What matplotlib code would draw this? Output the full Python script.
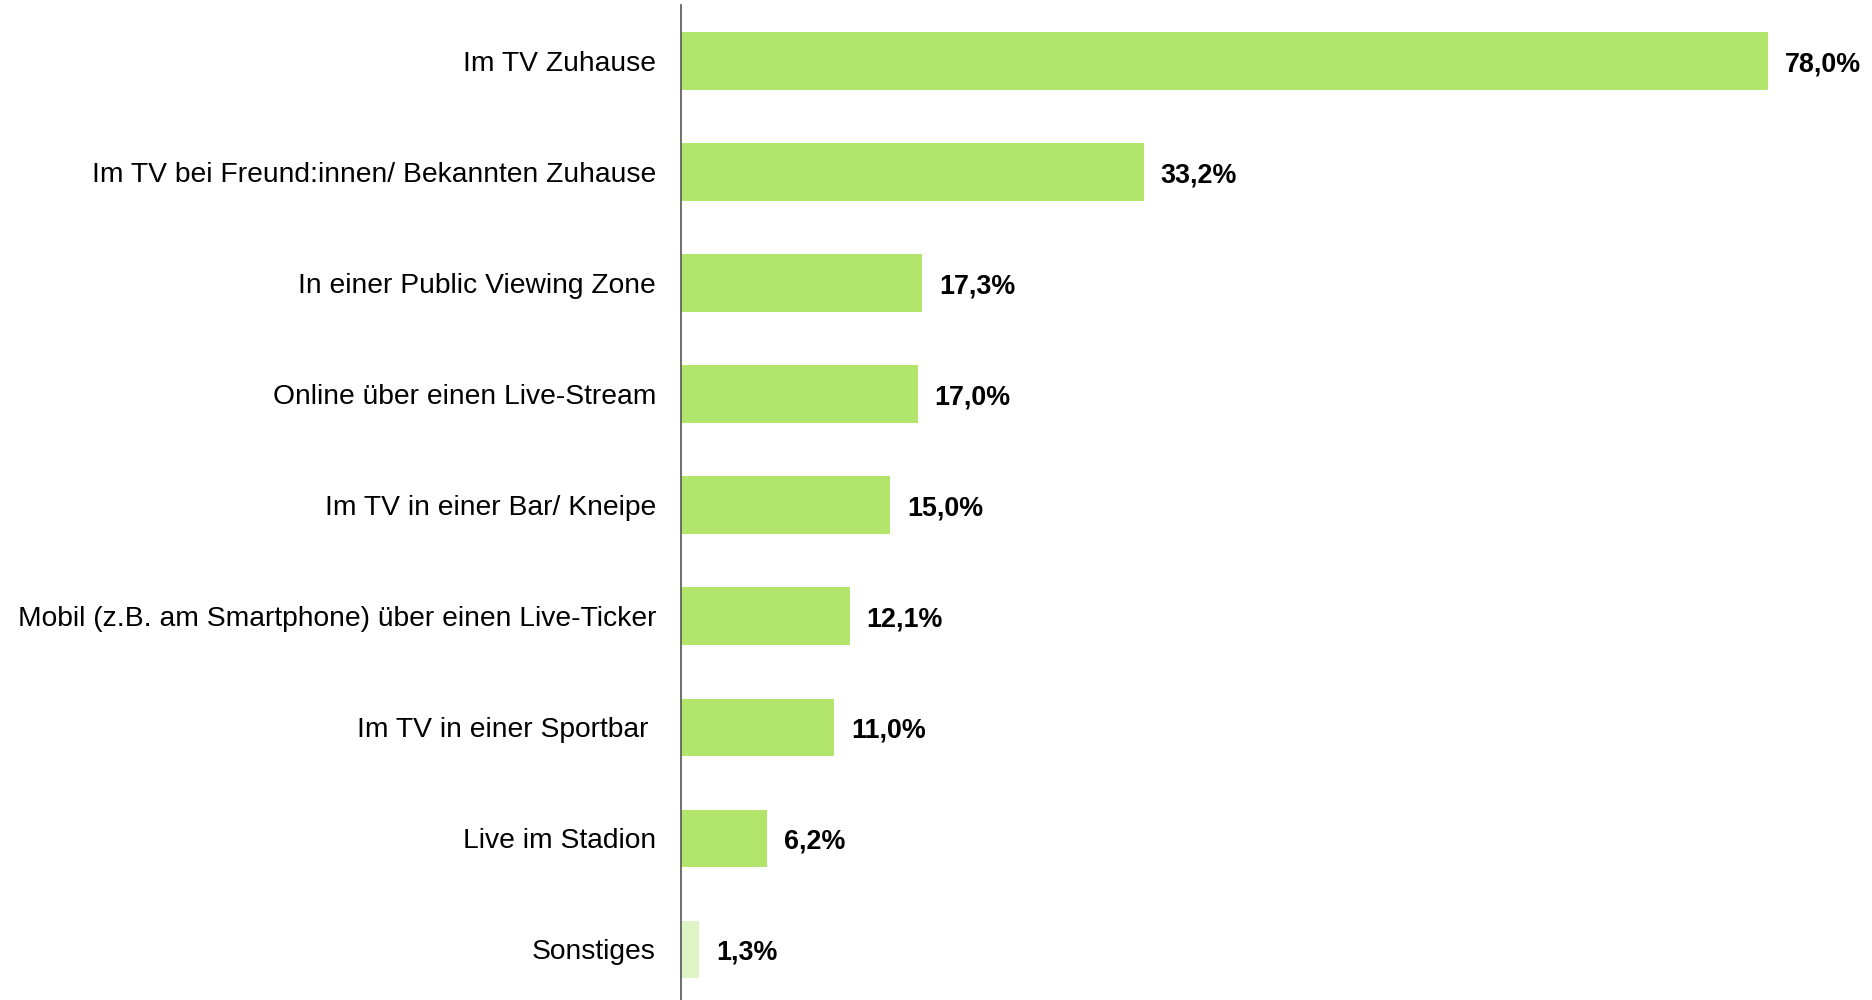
import matplotlib.pyplot as plt

categories = [
    "Im TV Zuhause",
    "Im TV bei Freund:innen/ Bekannten Zuhause",
    "In einer Public Viewing Zone",
    "Online über einen Live-Stream",
    "Im TV in einer Bar/ Kneipe",
    "Mobil (z.B. am Smartphone) über einen Live-Ticker",
    "Im TV in einer Sportbar ",
    "Live im Stadion",
    "Sonstiges",
]
values = [78.0, 33.2, 17.3, 17.0, 15.0, 12.1, 11.0, 6.2, 1.3]
bar_colors = ["#b2e56b"] * 8 + ["#ddf4c5"]

plt.rcParams['font.family'] = ['Liberation Sans', 'DejaVu Sans']

fig = plt.figure(figsize=(18.72, 10), dpi=100)
ax = fig.add_axes([681 / 1872, 0.0, 1 - 681 / 1872, 0.995])

pos = list(range(len(categories)))
ax.barh(pos, values, height=0.52, color=bar_colors)
ax.set_ylim(len(categories) - 0.545, -0.505)
ax.set_xlim(0, (1872 - 681) / 13.94)

for p, v in zip(pos, values):
    ax.text(v + 1.2, p, f"{v:.1f}".replace(".", ",") + "%", va="center_baseline",
            ha="left", fontsize=19.4, fontweight="bold")

ax.set_yticks(pos)
ax.set_yticklabels(categories, fontsize=20.3)
ax.tick_params(axis="y", length=0, pad=18)
ax.set_xticks([])
for s in ["top", "right", "bottom"]:
    ax.spines[s].set_visible(False)
ax.spines["left"].set_color("#555555")
ax.spines["left"].set_linewidth(1.2)

fig.savefig("out.png", dpi=100)
